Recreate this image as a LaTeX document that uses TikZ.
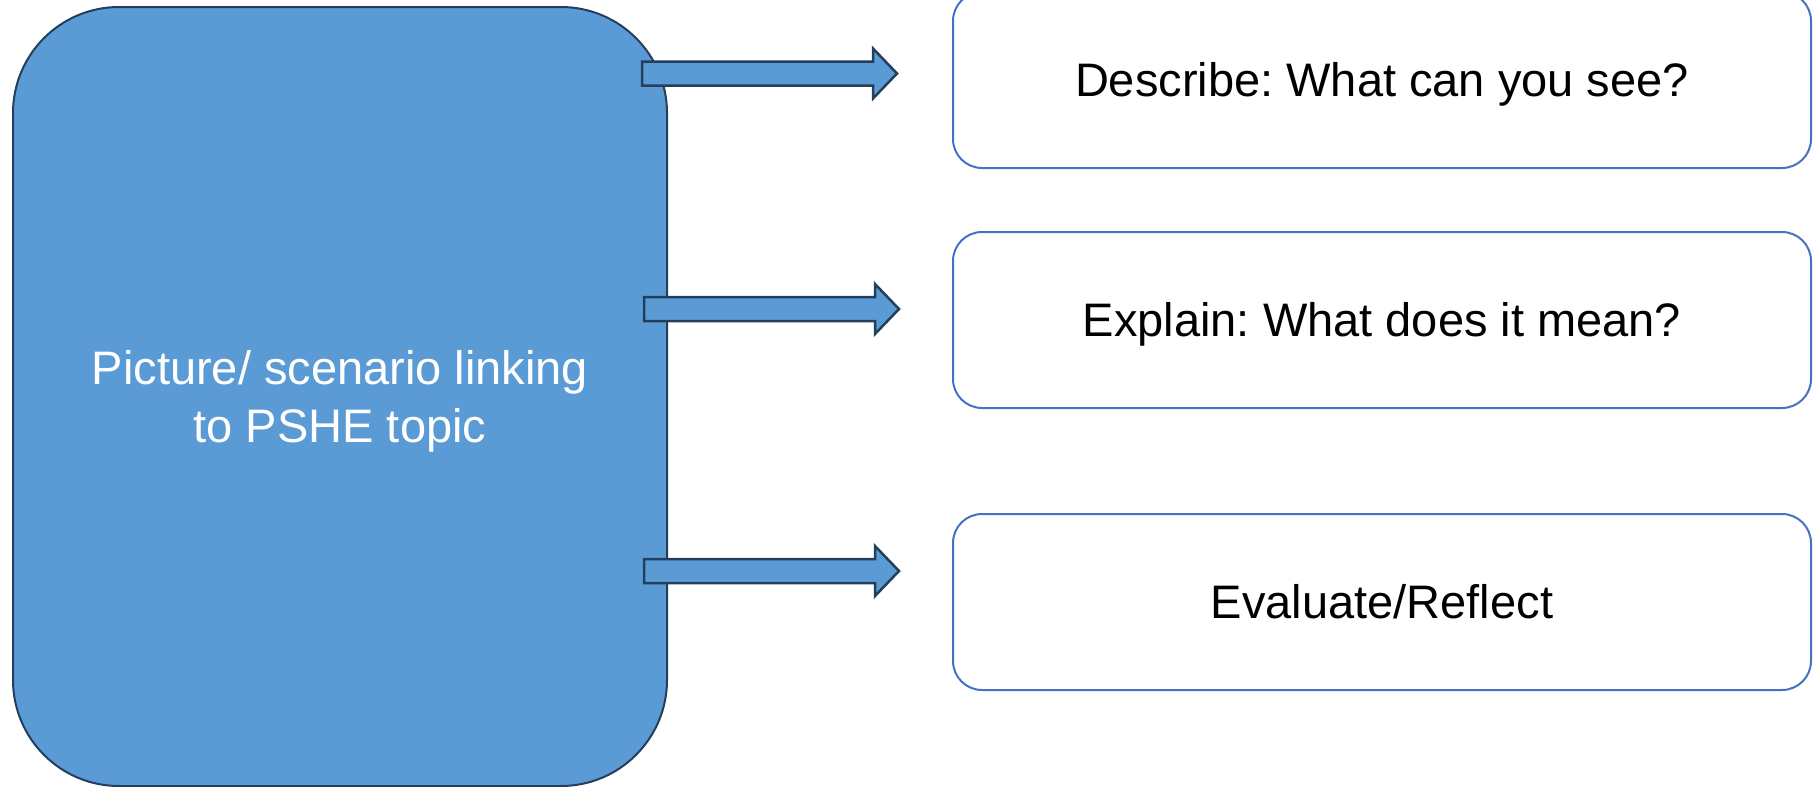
\documentclass[tikz,border=0pt]{standalone}
\usepackage{fontspec}
\setmainfont{Liberation Sans}
\usetikzlibrary{calc}
\frenchspacing

\definecolor{fillblue}{HTML}{5B9BD5}
\definecolor{darkedge}{HTML}{243F5C}
\definecolor{boxedge}{HTML}{4472C4}

\tikzset{
  mainbox/.style={draw=darkedge, fill=fillblue, line width=2pt,
    rounded corners=106pt, minimum width=654pt, minimum height=779pt,
    inner sep=0pt, outer sep=0pt},
  maintext/.style={text=white, align=center, inner sep=0pt,
    font=\fontsize{47}{57.5}\selectfont},
  stagebox/.style={draw=boxedge, fill=white, line width=2pt,
    rounded corners=29pt, minimum width=858pt, minimum height=176pt,
    inner sep=0pt, outer sep=0pt, text height=42.5pt, text depth=10pt,
    font=\fontsize{47}{56.5}\selectfont},
  arrowshape/.style={draw=darkedge, fill=fillblue, line width=2.5pt,
    line join=miter},
  pics/blockarr/.style={code={
    \draw[arrowshape] (0,-12) -- (231,-12) -- (231,-25) -- (255,0)
      -- (231,25) -- (231,12) -- (0,12) -- cycle;}}
}

\begin{document}
\begin{tikzpicture}[x=1pt, y=-1pt]
  \useasboundingbox (0,0) rectangle (1813,787);

  % scenario panel
  \node[mainbox] (scenario) at (340,396.5) {};
  \node[maintext] (scenariotext) at ($(scenario.center)+(0,5)$)
    {Picture/ scenario linking\\to PSHE topic};

  % the three question stages
  \node[stagebox] (describe) at (1382,80)  {Describe: What can you see?};
  \node[stagebox] (explain)  at (1382,320) {Explain: What does it mean?};
  \node[stagebox] (evaluate) at (1382,602) {Evaluate/Reflect};

  % block arrows from the panel towards each stage
  \coordinate (arrA) at (642,73.5);
  \coordinate (arrB) at (644,309);
  \coordinate (arrC) at (644,571);
  \pic at (arrA) {blockarr};
  \pic at (arrB) {blockarr};
  \pic at (arrC) {blockarr};
\end{tikzpicture}
\end{document}
